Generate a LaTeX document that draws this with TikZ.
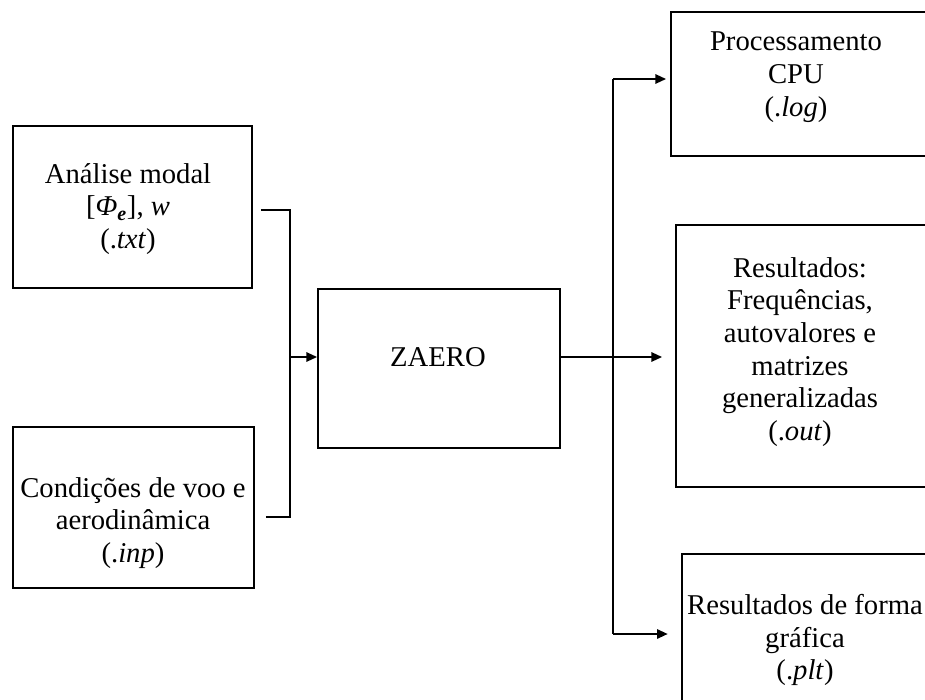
\documentclass[tikz,border=0pt]{standalone}
\usepackage{fontspec}
\setmainfont{Liberation Serif}
\usetikzlibrary{arrows.meta,calc}
\begin{document}
\begin{tikzpicture}[x=0.75pt,y=-0.75pt,
  box/.style={draw=black,line width=1.4pt,rectangle,inner sep=0pt},
  txt/.style={align=center,inner sep=0pt,font=\fontsize{21.5}{24.5}\selectfont},
  conn/.style={draw=black,line width=1.4pt},
  arr/.style={conn,-{Triangle[length=8pt,width=7pt]}}]
\useasboundingbox (0,0) rectangle (925,700);
\clip (0,0) rectangle (925,700);
% boxes
\node[box,minimum width=179.25pt,minimum height=121.5pt] (a) at (132.5,207) {};
\node[box,minimum width=180.75pt,minimum height=120.75pt] (c) at (133.5,507.5) {};
\node[box,minimum width=181.5pt,minimum height=119.25pt] (z) at (439,368.5) {};
\node[box,minimum width=239.25pt,minimum height=108pt] (p) at (830.5,84) {};
\node[box,minimum width=235.5pt,minimum height=196.5pt] (r) at (833,356) {};
\node[box,minimum width=231pt,minimum height=154.5pt] (g) at (836,657) {};
% texts
\node[txt] (ta) at (128,209) {Análise modal\\{[}\textit{Φ\textsubscript{\textbf{e}}}{]}, \textit{w}\\(.\textit{txt})};
\node[txt] (tc) at (133,523) {Condições de voo e\\aerodinâmica\\(.\textit{inp})};
\node[txt] (tz) at (438,357) {ZAERO};
\node[txt] (tp) at (796,77) {Processamento\\CPU\\(.\textit{log})};
\node[txt] (tr) at (800,352) {Resultados:\\Frequências,\\autovalores e\\matrizes\\generalizadas\\(.\textit{out})};
\node[txt] (tg) at (805,640) {Resultados de forma\\gráfica\\(.\textit{plt})};
% junctions
\coordinate (jin) at (290,357);
\coordinate (jout) at (613,357);
\coordinate (jtop) at (613,79);
\coordinate (jbot) at (613,634);
% input connectors
\draw[conn] ($(a.east)+(8,3)$) -| (jin);
\draw[conn] ($(c.east)+(11,9.5)$) -| (jin);
\draw[arr] (jin) -- (jin -| z.west);
% output connectors
\draw[arr,shorten >=13*0.75pt] (z.east |- jout) -- (jout -| r.west);
\draw[conn] (jtop) -- (jbot);
\draw[arr,shorten >=3pt] (jtop) -- (jtop -| p.west);
\draw[arr,shorten >=10pt] (jbot) -- (jbot -| g.west);
\end{tikzpicture}
\end{document}
